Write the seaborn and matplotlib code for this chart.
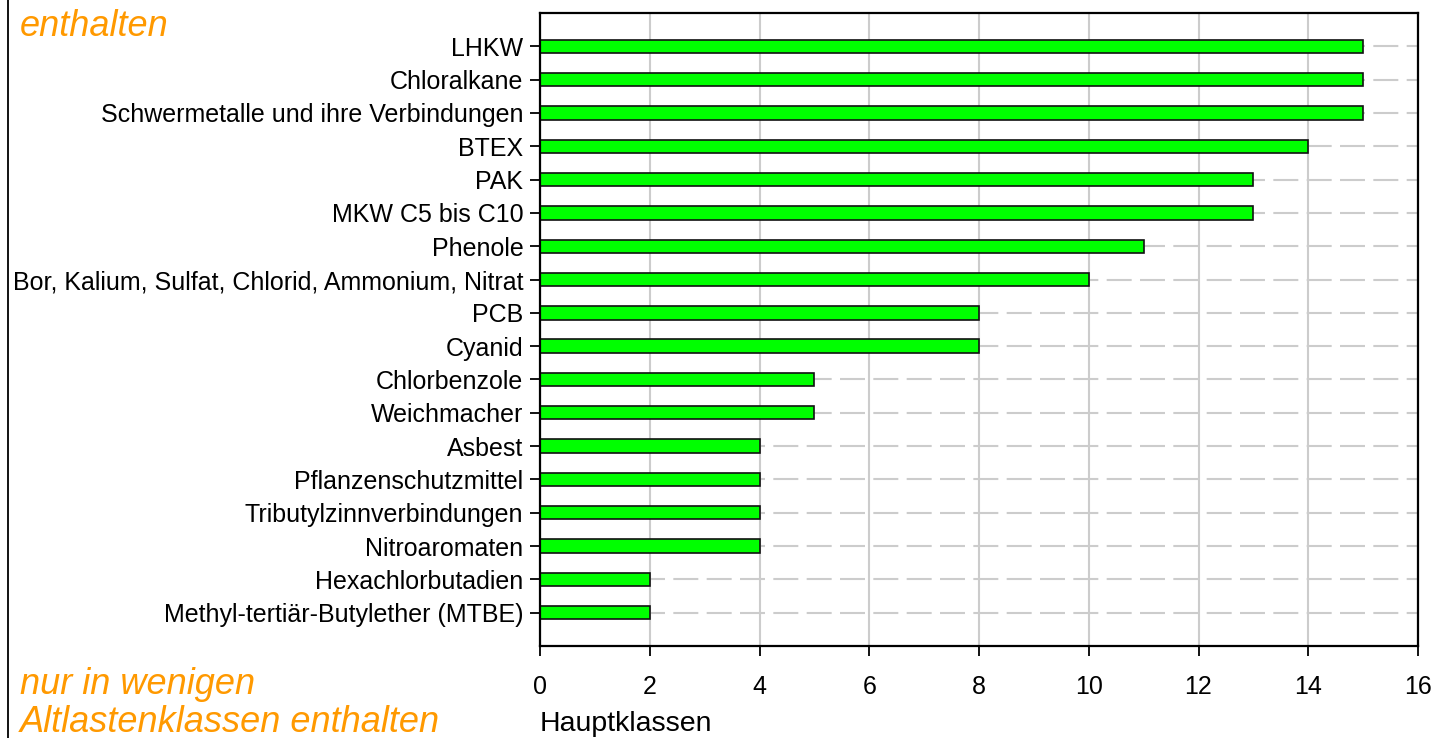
import matplotlib
matplotlib.use("Agg")
import matplotlib.pyplot as plt
import seaborn as sns
import pandas as pd
from matplotlib.lines import Line2D

# data
substances = [
    "LHKW",
    "Chloralkane",
    "Schwermetalle und ihre Verbindungen",
    "BTEX",
    "PAK",
    "MKW C5 bis C10",
    "Phenole",
    "Bor, Kalium, Sulfat, Chlorid, Ammonium, Nitrat",
    "PCB",
    "Cyanid",
    "Chlorbenzole",
    "Weichmacher",
    "Asbest",
    "Pflanzenschutzmittel",
    "Tributylzinnverbindungen",
    "Nitroaromaten",
    "Hexachlorbutadien",
    "Methyl-tertiär-Butylether (MTBE)",
]
counts = [15, 15, 15, 14, 13, 13, 11, 10, 8, 8, 5, 5, 4, 4, 4, 4, 2, 2]
x_ticks = [0, 2, 4, 6, 8, 10, 12, 14, 16]

sns.set_theme(style="white")
plt.rcParams["font.family"] = ["Liberation Sans", "DejaVu Sans"]
plt.rcParams["lines.scale_dashes"] = False

df = pd.DataFrame({"Stoffgruppe": substances, "Hauptklassen": counts})

fig = plt.figure(figsize=(14.35, 7.38), dpi=100)
ax = fig.add_axes([540 / 1435, 1 - 646 / 738, (1418 - 540) / 1435, (646 - 13) / 738])

sns.barplot(data=df, y="Stoffgruppe", x="Hauptklassen", orient="h",
            color="#00ff00", saturation=1, edgecolor="#111111", linewidth=1.2,
            width=0.4, ax=ax)

ax.set_xlim(0, 16)
ax.set_ylim(len(substances), -1)
ax.set_xticks(x_ticks)
ax.set_xticklabels([str(t) for t in x_ticks])

ax.set_axisbelow(True)
ax.xaxis.grid(True, color="#cccccc", linewidth=1.5, linestyle="-")
ax.yaxis.grid(True, color="#cccccc", linewidth=1.5, linestyle=(0, (18, 6)))

for s in ax.spines.values():
    s.set_color("black")
    s.set_linewidth(1.6)

ax.tick_params(axis="both", which="major", direction="out", length=7, width=1.3,
               color="black", labelsize=18, labelcolor="black")
ax.tick_params(axis="x", pad=14)
ax.tick_params(axis="y", pad=5)
ax.xaxis.set_ticks_position("bottom")
ax.yaxis.set_ticks_position("left")

ax.set_ylabel("")
ax.set_xlabel("Hauptklassen", fontsize=20.5, color="black")
ax.xaxis.set_label_coords(0, -78 / 633)
ax.xaxis.label.set_horizontalalignment("left")
ax.xaxis.label.set_verticalalignment("center")

orange = "#ff9900"
fig.text(20 / 1435, 1 - 27 / 738, "enthalten", color=orange, fontsize=26,
         style="italic", ha="left", va="center")
fig.text(20 / 1435, 1 - 685 / 738, "nur in wenigen", color=orange, fontsize=26,
         style="italic", ha="left", va="center")
fig.text(20 / 1435, 1 - 723 / 738, "Altlastenklassen enthalten", color=orange,
         fontsize=26, style="italic", ha="left", va="center")

# frame line on the left edge
fig.add_artist(Line2D([8 / 1435, 8 / 1435], [0, 1], color="black", linewidth=1.3,
                      transform=fig.transFigure))

fig.savefig("out.png", dpi=100)
